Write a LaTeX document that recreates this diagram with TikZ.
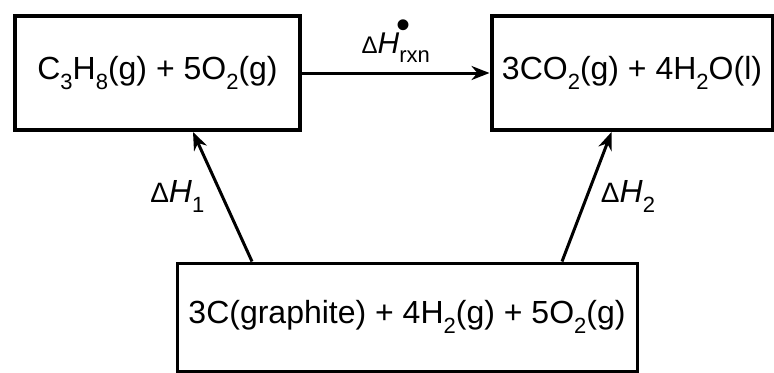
\documentclass[tikz,border=0pt]{standalone}
\usepackage{fontspec}
\setmainfont{Liberation Sans}
\usetikzlibrary{arrows.meta}
\newcommand{\chsub}[1]{\raisebox{-.3em}{\fontsize{11}{11}\selectfont #1}}
\newcommand{\dH}[1]{{\fontsize{14}{14}\selectfont Δ}\textit{H}\chsub{#1}}
\begin{document}
\begin{tikzpicture}[x=.5pt,y=.5pt,every node/.style={font=\fontsize{16}{19}\selectfont},
  box/.style={draw,line width=2pt,minimum height=57pt,inner sep=0pt},
  arr/.style={line width=1.5pt,-{Stealth[length=9pt,width=7pt]}}]
\useasboundingbox (0,0) rectangle (774,372);
\node[box,minimum width=142.5pt] (a) at (157.5,299) {C\chsub{3}H\chsub{8}(g) + 5O\chsub{2}(g)};
\node[box,minimum width=140.5pt] (b) at (632,299) {3CO\chsub{2}(g) + 4H\chsub{2}O(l)};
\node[box,line width=1.5pt,minimum width=230pt,minimum height=54pt] (c) at (407,55) {3C(graphite) + 4H\chsub{2}(g) + 5O\chsub{2}(g)};
\draw[arr] (a) -- (b) node[midway,above=1pt,font=\fontsize{15}{17}\selectfont] {{\fontsize{12}{12}\selectfont Δ}\textit{H}\rlap{\hspace{-.08em}\raisebox{.5em}{\fontsize{20}{20}\selectfont •}}\raisebox{-.3em}{\fontsize{11}{11}\selectfont rxn}};
\draw[arr] ([xshift=-77.5pt]c.north) -- ([xshift=17.75pt]a.south) node[pos=.5,left=5pt] {\dH{1}};
\draw[arr] ([xshift=77.5pt]c.north) -- ([xshift=-10.25pt]b.south) node[pos=.5,right=3pt] {\dH{2}};
\end{tikzpicture}
\end{document}
